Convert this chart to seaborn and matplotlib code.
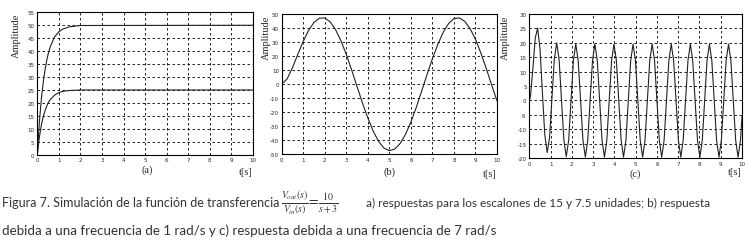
import numpy as np
import pandas as pd
import matplotlib
matplotlib.use("Agg")
import matplotlib.pyplot as plt
import seaborn as sns

# ---- datos ----
# (a) respuestas al escalon de 15 y 7.5 unidades
t_a = [0, 0.1, 0.2, 0.3, 0.4, 0.5, 0.6, 0.8, 1.0, 1.2, 1.5, 2.0, 10.0]
y_a_15 = [0, 13, 22.6, 29.6, 34.9, 38.8, 41.7, 45.5, 47.5, 48.6, 49.4, 49.9, 50]
y_a_75 = [0, 7, 12, 15.5, 18, 20, 21.3, 23, 24, 24.5, 24.8, 25, 25]

# (b) respuesta a 1 rad/s
t_b = [0, 0.25, 0.5, 0.75, 1.0, 1.25, 1.5, 1.75, 2.0, 2.25, 2.5, 2.75, 3.0,
       3.25, 3.5, 3.75, 4.0, 4.25, 4.5, 4.75, 5.0, 5.25, 5.5, 5.75, 6.0,
       6.25, 6.5, 6.75, 7.0, 7.25, 7.5, 7.75, 8.0, 8.25, 8.5, 8.75, 9.0,
       9.25, 9.5, 9.75, 10.0]
y_b = [0, 3.7, 11.7, 21.3, 30.5, 38.3, 44.0, 47.0, 47.2, 44.4, 38.9, 31.0, 21.2,
       10.0, -1.7, -13.4, -24.1, -33.5, -40.8, -45.6, -47.4, -46.3, -42.3, -35.8, -27.0,
       -16.6, -5.0, 6.8, 18.1, 28.3, 36.9, 43.2, 46.7, 47.2, 44.8, 39.6, 31.9,
       22.2, 11.2, -0.5, -11.9]

# (c) respuesta a 7 rad/s
t_c = [0, 0.054, 0.166, 0.278, 0.390, 0.502, 0.614, 0.726, 0.839, 0.951, 1.063,
       1.175, 1.288, 1.400, 1.512, 1.624, 1.736, 1.849, 1.961, 2.073, 2.185,
       2.297, 2.410, 2.522, 2.634, 2.746, 2.858, 2.971, 3.083, 3.195, 3.307,
       3.419, 3.532, 3.644, 3.756, 3.868, 3.980, 4.093, 4.205, 4.317, 4.429,
       4.541, 4.654, 4.766, 4.878, 4.990, 5.102, 5.215, 5.327, 5.439, 5.551,
       5.663, 5.776, 5.888, 6.000, 6.112, 6.224, 6.337, 6.449, 6.561, 6.673,
       6.785, 6.898, 7.010, 7.122, 7.234, 7.346, 7.459, 7.571, 7.683, 7.795,
       7.907, 8.020, 8.132, 8.244, 8.356, 8.468, 8.581, 8.693, 8.805, 8.917,
       9.029, 9.142, 9.254, 9.366, 9.478, 9.590, 9.703, 9.815, 9.927, 10.0]
y_c = [0, 1.4, 10.9, 21.6, 25.0, 17.8, 2.8, -11.8, -18.0, -12.8, 0.7,
       14.3, 19.9, 14.1, 0.2, -13.7, -19.4, -13.8, 0.0, 13.8, 19.5,
       13.8, 0.0, -13.8, -19.6, -13.8, 0.0, 13.8, 19.5, 13.8, 0.0,
       -13.8, -19.6, -13.8, 0.0, 13.8, 19.5, 13.8, 0.0, -13.8, -19.6,
       -13.8, 0.0, 13.8, 19.5, 13.8, 0.0, -13.8, -19.6, -13.8, 0.0,
       13.8, 19.5, 13.8, 0.0, -13.8, -19.6, -13.8, 0.0, 13.8, 19.5,
       13.8, 0.0, -13.8, -19.6, -13.8, 0.0, 13.8, 19.5, 13.8, 0.0,
       -13.8, -19.6, -13.8, 0.0, 13.8, 19.5, 13.8, 0.0, -13.8, -19.6,
       -13.8, 0.0, 13.8, 19.5, 13.8, 0.0, -13.8, -19.6, -13.9, -5.4]

sns.set_style("white")
plt.rcParams["mathtext.fontset"] = "stix"
plt.rcParams["axes.unicode_minus"] = False

fig = plt.figure(figsize=(7.52, 2.51), dpi=100)
ax_a = fig.add_axes([0.0496, 0.3797, 0.2868, 0.5673])
ax_b = fig.add_axes([0.3746, 0.3813, 0.2863, 0.5590])
ax_c = fig.add_axes([0.7039, 0.3653, 0.2828, 0.5761])

line_kw = dict(color="#222222", lw=0.8, legend=False)

df_a = pd.DataFrame({"t": t_a, "y15": y_a_15, "y75": y_a_75})
sns.lineplot(data=df_a, x="t", y="y15", ax=ax_a, **line_kw)
sns.lineplot(data=df_a, x="t", y="y75", ax=ax_a, **line_kw)
sns.lineplot(x=t_b, y=y_b, ax=ax_b, **line_kw)
sns.lineplot(x=t_c, y=y_c, ax=ax_c, **line_kw)

# eje, limites, ticks, etiqueta, pos. x ylabel, pos. (x) etiqueta, pos. y etiquetas inferiores
configs = [
    (ax_a, (0, 55), np.arange(0, 56, 5), "(a)", -0.074, 0.51, -0.10, -0.12),
    (ax_b, (-50, 50), np.arange(-50, 51, 10), "(b)", -0.05, 0.50, -0.12, -0.14),
    (ax_c, (-20, 30), np.arange(-20, 31, 5), "(c)", -0.09, 0.50, -0.10, -0.09),
]
serif = "Liberation Serif"
for ax, ylim, yticks, label, ylx, lx, ly, ty in configs:
    ax.set_xlim(0, 10)
    ax.set_ylim(*ylim)
    ax.set_xticks(range(0, 11))
    ax.set_yticks(yticks)
    ax.tick_params(labelsize=4, length=1.5, width=0.5, pad=2,
                   direction="in", left=True, bottom=True)
    ax.grid(True, color="black", linestyle=(0, (3, 3)), lw=0.6)
    for s in ax.spines.values():
        s.set_color("black")
        s.set_linewidth(0.8)
    ax.set_xlabel("")
    ax.set_ylabel("Amplitude", family=serif, fontsize=7.5)
    ax.yaxis.set_label_coords(ylx, 0.84)
    ax.text(lx, ly, label, transform=ax.transAxes, ha="center", va="center",
            family=serif, fontsize=7.5)
    ax.text(1.0, ty, "t[s]", transform=ax.transAxes, ha="right", va="center",
            family=serif, fontsize=7.5)

# pie de figura
cap_font = "Lato"
cap_color = "#333333"
y1 = 1 - 203 / 251
y2 = 1 - 231 / 251
fig.text(0.003, y1, "Figura 7. Simulación de la función de transferencia",
         family=cap_font, fontsize=9.0, va="center", color=cap_color)
fig.text(281 / 752, y1,
         r"$\frac{V_{out}(s)}{V_{in}(s)}\!=\!\frac{10}{s+3}$",
         fontsize=10, va="center", color=cap_color)
fig.text(366 / 752, y1,
         "a) respuestas para los escalones de 15 y 7.5 unidades; b) respuesta",
         family=cap_font, fontsize=8.5, va="center", color=cap_color)
fig.text(0.003, y2,
         "debida a una frecuencia de 1 rad/s y c) respuesta debida a una frecuencia de 7 rad/s",
         family=cap_font, fontsize=9.6, va="center", color=cap_color)

fig.savefig("out.png", dpi=100)
